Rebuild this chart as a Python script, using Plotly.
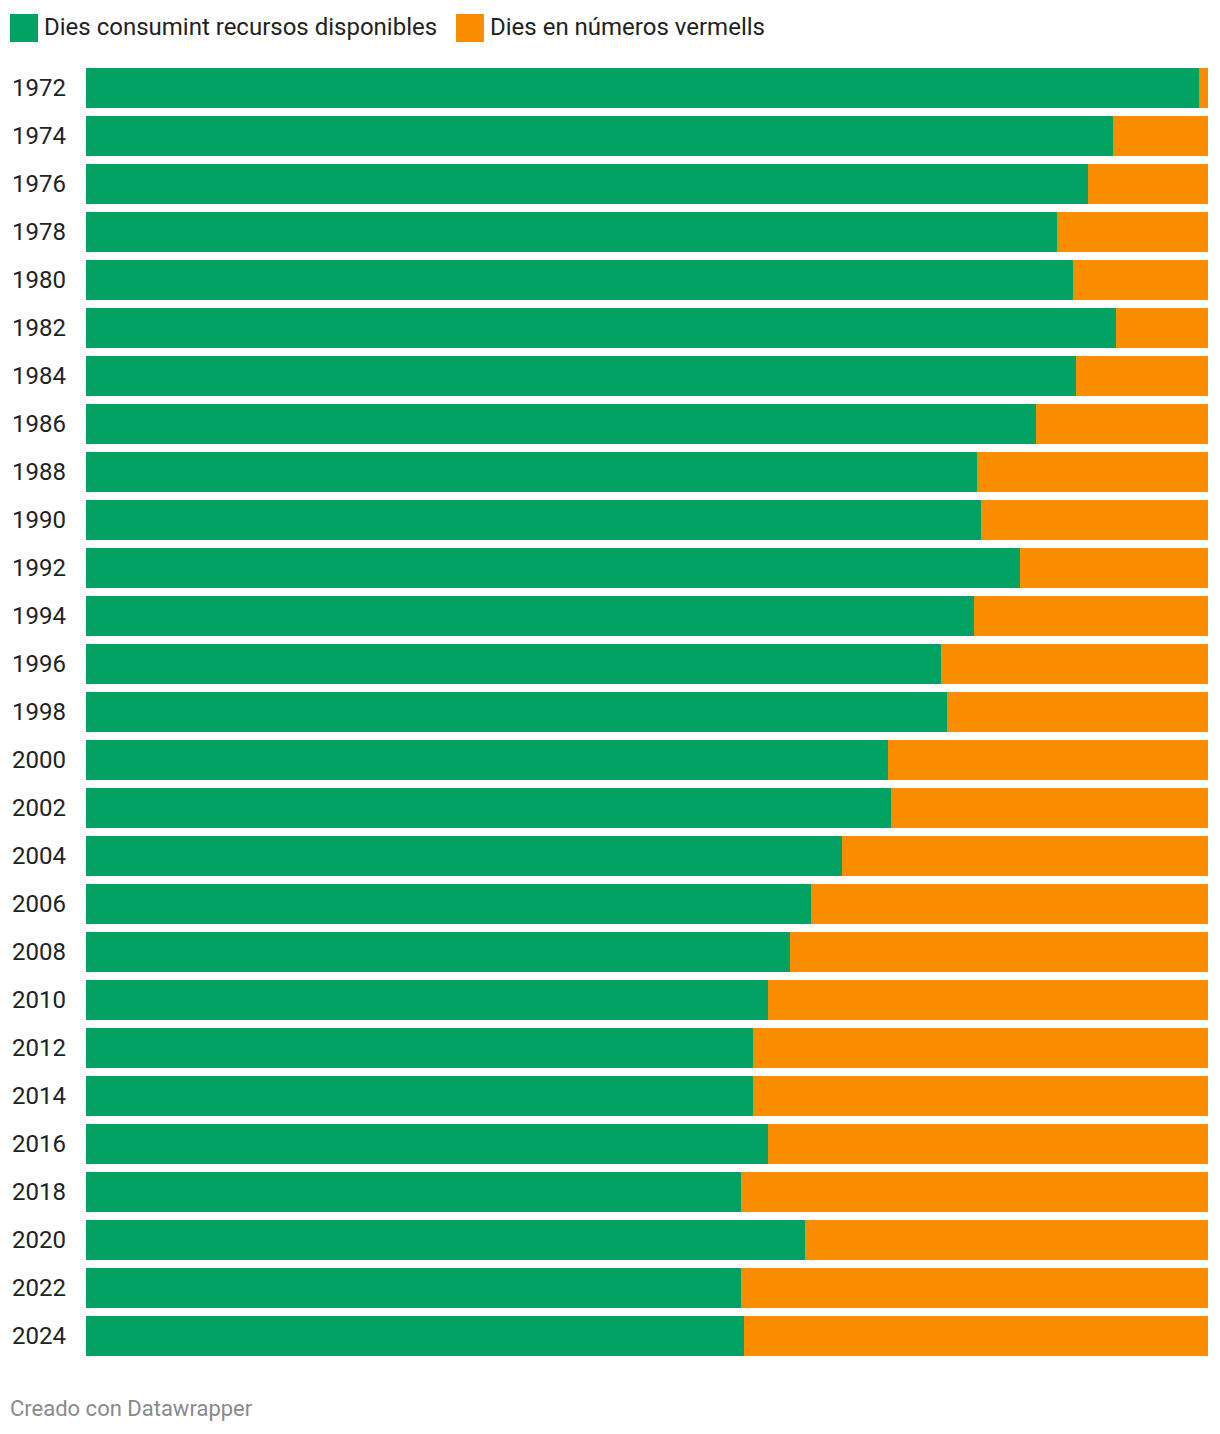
import plotly.graph_objects as go

years = ["1972", "1974", "1976", "1978", "1980", "1982", "1984", "1986", "1988",
         "1990", "1992", "1994", "1996", "1998", "2000", "2002", "2004", "2006",
         "2008", "2010", "2012", "2014", "2016", "2018", "2020", "2022", "2024"]
green_days = [362, 334, 326, 316, 321, 335, 322, 309, 290,
              291, 304, 289, 278, 280, 261, 262, 246, 236,
              229, 222, 217, 217, 222, 213, 234, 213, 214]
total_days = 365
red_days = [total_days - g for g in green_days]

series_names = ["Dies consumint recursos disponibles", "Dies en números vermells"]
colors = ["#01a263", "#fa8c00"]

# page is rendered with an 8px body margin
OFF = 8
W, H = 1220 - 2 * OFF, 1434 - 2 * OFF
PL, PR, PT, PB = 86, 1208, 64, 1360  # plot area in page pixels
ML, MR, MT, MB = PL - OFF, (W + OFF) - PR, PT - OFF, (H + OFF) - PB
PW = PR - PL
PH = PB - PT

fig = go.Figure()
fig.add_trace(go.Bar(y=years, x=green_days, orientation="h", name=series_names[0],
                     marker=dict(color=colors[0], line=dict(width=0)), showlegend=False))
fig.add_trace(go.Bar(y=years, x=red_days, orientation="h", name=series_names[1],
                     marker=dict(color=colors[1], line=dict(width=0)), showlegend=False))

def px_x(p):
    return (p - PL) / PW

def px_y(p):
    return (PB - p) / PH

# manual legend
legend_items = [(10, series_names[0], colors[0]), (456, series_names[1], colors[1])]
for x0, name, col in legend_items:
    fig.add_shape(type="rect", xref="paper", yref="paper",
                  x0=px_x(x0), x1=px_x(x0 + 28), y0=px_y(42), y1=px_y(14),
                  fillcolor=col, line=dict(width=0))
    fig.add_annotation(xref="paper", yref="paper", x=px_x(x0 + 32), y=px_y(27),
                       text=name, showarrow=False, xanchor="left", yanchor="middle",
                       font=dict(size=24, color="#222222", family="Roboto"))

fig.add_annotation(xref="paper", yref="paper", x=px_x(8), y=px_y(1408),
                   text="Creado con Datawrapper", showarrow=False, xanchor="left",
                   yanchor="middle", font=dict(size=22, color="#8a8a8a", family="Roboto"))

fig.update_layout(
    width=W, height=H,
    barmode="stack", bargap=8 / 48,
    margin=dict(l=ML, r=MR, t=MT, b=MB, autoexpand=False),
    paper_bgcolor="white", plot_bgcolor="white",
    font=dict(family="Roboto", color="#222222"),
    xaxis=dict(range=[0, total_days], visible=False, fixedrange=True),
    yaxis=dict(autorange="reversed", type="category", showgrid=False, zeroline=False,
               showline=False, ticks="", ticklabelstandoff=19,
               tickfont=dict(size=24, color="#222222", family="Roboto")),
)

fig.write_html("out.html")
